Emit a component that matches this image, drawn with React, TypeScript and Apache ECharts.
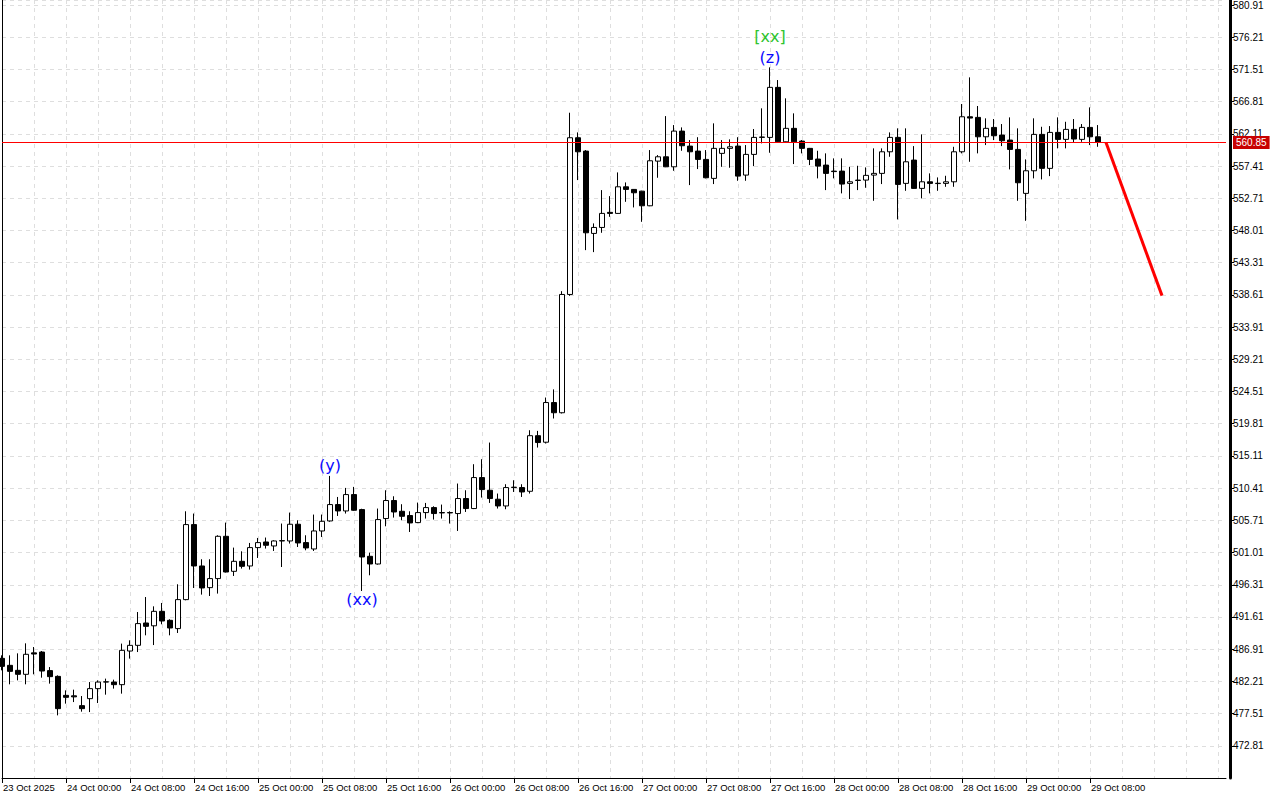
import React, { useEffect, useRef } from "react";
import * as echarts from "echarts";

// ---- categories: hourly bars starting 23 Oct 2025 16:00 (plus empty future slots)
const START_MS = Date.UTC(2025, 9, 23, 16);
const TOTAL_SLOTS = 154;
const categories: string[] = [];
for (let i = 0; i < TOTAL_SLOTS; i++) {
  const d = new Date(START_MS + i * 3600000);
  categories.push(
    i === 0
      ? "23 Oct 2025"
      : `${d.getUTCDate()} Oct ${String(d.getUTCHours()).padStart(2, "0")}:00`
  );
}

// ---- candles: [open, close, low, high]
const candles: number[][] = [
  [485.57, 484.4, 483.82, 486.01],
  [484.55, 483.67, 481.78, 486.01],
  [483.82, 483.24, 482.36, 486.3],
  [483.24, 486.16, 481.78, 487.76],
  [486.37, 486.2, 483.24, 487.22],
  [486.49, 483.72, 482.75, 486.64],
  [483.78, 482.9, 481.88, 484.3],
  [482.94, 478.23, 477.25, 483.09],
  [480.17, 479.88, 478.96, 480.9],
  [480.1, 479.95, 479.19, 481.0],
  [478.67, 478.23, 477.79, 480.07],
  [479.69, 481.15, 477.73, 482.11],
  [481.15, 482.11, 479.05, 482.36],
  [482.11, 482.15, 480.27, 482.61],
  [482.11, 481.73, 481.15, 482.46],
  [481.73, 486.74, 480.42, 487.72],
  [486.64, 487.47, 485.53, 488.2],
  [487.47, 490.64, 486.49, 492.33],
  [490.73, 490.24, 488.93, 494.52],
  [490.32, 492.43, 487.51, 493.16],
  [492.43, 491.02, 490.54, 493.65],
  [491.12, 490.0, 488.93, 491.27],
  [489.91, 494.14, 489.27, 496.38],
  [494.14, 505.09, 494.04, 507.03],
  [505.09, 499.05, 495.84, 506.7],
  [499.05, 495.84, 494.87, 500.03],
  [495.89, 497.21, 494.67, 500.03],
  [497.21, 503.38, 495.02, 503.53],
  [503.38, 498.17, 498.1, 505.38],
  [498.27, 499.73, 497.59, 501.73],
  [499.73, 499.0, 498.67, 501.19],
  [499.05, 501.73, 498.52, 502.41],
  [501.73, 502.46, 500.22, 503.14],
  [502.55, 502.07, 501.59, 503.2],
  [501.97, 502.7, 501.24, 502.8],
  [502.7, 502.75, 498.9, 505.24],
  [502.7, 505.14, 502.32, 506.84],
  [505.14, 502.41, 501.82, 505.72],
  [502.46, 501.68, 501.34, 503.53],
  [501.53, 504.16, 501.24, 506.55],
  [504.16, 505.57, 503.28, 506.55],
  [505.62, 508.01, 505.5, 512.19],
  [508.01, 507.08, 506.35, 509.12],
  [507.08, 509.47, 506.7, 510.44],
  [509.47, 507.18, 507.1, 510.59],
  [507.28, 500.36, 495.4, 507.4],
  [500.46, 499.34, 497.69, 501.0],
  [499.34, 505.82, 499.25, 507.43],
  [505.97, 508.6, 504.84, 510.1],
  [508.6, 506.93, 506.11, 509.22],
  [507.03, 506.3, 505.72, 508.06],
  [506.41, 505.33, 504.01, 507.03],
  [505.38, 506.84, 505.3, 508.3],
  [506.84, 507.57, 505.97, 508.25],
  [507.57, 506.7, 505.82, 507.76],
  [506.79, 506.85, 505.97, 508.01],
  [506.85, 506.79, 505.24, 507.03],
  [506.7, 508.89, 504.16, 511.08],
  [508.89, 507.43, 506.93, 510.1],
  [507.43, 511.95, 507.35, 513.9],
  [511.95, 510.2, 509.03, 514.63],
  [510.1, 508.89, 508.25, 517.06],
  [508.79, 507.81, 507.43, 509.62],
  [507.81, 510.49, 507.33, 510.98],
  [510.49, 510.55, 509.85, 511.56],
  [510.49, 509.85, 509.12, 510.98],
  [509.95, 518.06, 509.62, 518.86],
  [518.06, 517.06, 516.33, 518.76],
  [517.11, 522.9, 516.92, 523.63],
  [522.9, 521.41, 520.57, 524.82],
  [521.41, 538.67, 521.3, 539.15],
  [538.67, 561.54, 538.47, 565.19],
  [561.54, 559.49, 555.36, 562.32],
  [559.59, 547.67, 545.14, 559.74],
  [547.58, 548.45, 544.85, 549.04],
  [548.45, 550.5, 547.67, 553.9],
  [550.65, 550.5, 550.0, 553.02],
  [550.5, 554.38, 550.45, 556.48],
  [554.38, 554.0, 552.19, 555.02],
  [554.0, 553.51, 551.37, 554.05],
  [553.75, 551.61, 549.27, 553.8],
  [551.61, 558.18, 551.55, 559.74],
  [558.13, 558.76, 555.7, 559.01],
  [558.76, 557.3, 557.25, 564.7],
  [557.3, 562.51, 556.72, 563.39],
  [562.51, 560.37, 559.64, 563.05],
  [560.32, 559.49, 554.63, 561.2],
  [559.59, 558.38, 556.97, 561.62],
  [558.38, 555.7, 555.61, 559.74],
  [555.61, 559.99, 554.78, 563.64],
  [559.26, 559.99, 557.3, 561.2],
  [559.99, 560.22, 557.16, 561.3],
  [560.32, 555.94, 555.26, 561.62],
  [556.09, 559.11, 555.26, 560.47],
  [559.11, 561.59, 557.4, 562.81],
  [561.59, 561.65, 560.72, 565.83],
  [561.59, 568.89, 559.35, 571.81],
  [568.89, 560.95, 560.9, 569.96],
  [560.95, 562.91, 560.9, 567.29],
  [562.91, 560.95, 557.7, 565.1],
  [561.05, 559.99, 559.26, 561.2],
  [559.99, 558.38, 557.55, 560.05],
  [558.43, 557.4, 555.61, 559.64],
  [557.55, 556.34, 553.9, 559.26],
  [556.67, 556.6, 555.61, 558.53],
  [556.67, 554.78, 553.42, 558.53],
  [554.88, 555.11, 552.59, 557.3],
  [555.3, 555.36, 553.9, 557.45],
  [555.36, 556.05, 554.24, 557.21],
  [556.09, 556.34, 552.34, 559.99],
  [556.34, 559.49, 554.78, 559.99],
  [559.49, 561.59, 558.76, 562.32],
  [561.59, 554.73, 549.62, 562.91],
  [554.88, 558.03, 553.8, 562.91],
  [558.28, 554.15, 554.1, 560.32],
  [554.15, 555.11, 552.69, 562.03],
  [555.11, 554.88, 553.42, 556.34],
  [554.85, 554.9, 553.8, 555.75],
  [554.88, 555.11, 554.38, 555.99],
  [555.11, 559.49, 554.38, 560.22],
  [559.49, 564.6, 559.26, 566.46],
  [564.6, 564.41, 558.03, 570.35],
  [564.51, 561.68, 559.26, 566.17],
  [561.68, 562.91, 560.47, 564.37],
  [563.05, 561.83, 561.2, 564.27],
  [561.93, 561.1, 560.32, 563.54],
  [561.2, 559.84, 556.92, 564.51],
  [559.84, 554.97, 552.34, 562.91],
  [553.42, 556.72, 549.42, 558.38],
  [556.72, 562.03, 555.61, 564.37],
  [562.03, 557.07, 555.46, 563.14],
  [557.07, 562.32, 555.94, 563.24],
  [562.32, 561.3, 559.99, 564.51],
  [561.3, 562.76, 559.99, 563.87],
  [562.76, 561.35, 560.81, 564.27],
  [561.3, 563.05, 560.95, 563.54],
  [563.05, 561.68, 560.47, 565.97],
  [561.68, 560.85, 560.22, 563.39],
];

const LAST_PRICE = 560.85;
const LAST_INDEX = candles.length - 1;

// ---- forecast segment
const forecastIdx = [138, 145];
const forecastVal = [560.85, 538.5];

// ---- y-axis
const Y_MIN = 468.11;
const Y_MAX = 581.64;
const Y_STEP = 4.7;

// ---- wave annotations
const waveLabels = [
  { text: "(y)", index: 41, side: "top", color: "#0a0aff", dist: 2 },
  { text: "(xx)", index: 45, side: "bottom", color: "#0a0aff", dist: 1 },
  { text: "(z)", index: 96, side: "top", color: "#0a0aff", dist: 2 },
  { text: "[xx]", index: 96, side: "top", color: "#2ec42e", dist: 23 },
];

const FONT = "Liberation Sans";

export default function App() {
  const ref = useRef<HTMLDivElement>(null);

  useEffect(() => {
    if (!ref.current) return;
    const chart = echarts.init(ref.current, undefined, { renderer: "svg" });

    const forecast: (number | null)[] = categories.map(() => null);
    forecastIdx.forEach((ix, k) => (forecast[ix] = forecastVal[k]));

    const labelInterval = (i: number) => i % 8 === 0 && i <= LAST_INDEX;

    const option: any = {
      animation: false,
      backgroundColor: "#ffffff",
      grid: { left: 2, top: 0, width: 1224, height: 778, containLabel: false },
      xAxis: {
        type: "category",
        data: categories,
        boundaryGap: false,
        axisLine: { show: true, lineStyle: { color: "#000", width: 1 } },
        axisTick: {
          show: true,
          interval: labelInterval,
          length: 5,
          lineStyle: { color: "#000" },
        },
        axisLabel: {
          interval: labelInterval,
          align: "left",
          margin: 4,
          color: "#000",
          fontSize: 9.5,
          fontFamily: FONT,
          padding: [0, 0, 0, 1],
        },
        splitLine: {
          show: true,
          interval: (i: number) => i % 4 === 0,
          lineStyle: { color: "#dedede", type: [4, 4], width: 1 },
        },
      },
      yAxis: [
        {
          type: "value",
          position: "right",
          offset: 4,
          min: Y_MIN,
          max: Y_MAX,
          interval: Y_STEP,
          scale: true,
          axisLine: { show: true, lineStyle: { color: "#000", width: 3 } },
          axisTick: { show: true, length: 4, inside: false, lineStyle: { color: "#000" } },
          axisLabel: {
            showMinLabel: false,
            showMaxLabel: false,
            color: "#000",
            fontSize: 10,
            fontFamily: FONT,
            margin: 3,
            formatter: (v: number) => v.toFixed(2),
          },
          splitLine: {
            show: true,
            lineStyle: { color: "#dedede", type: [4, 4], width: 1 },
          },
        },
        {
          type: "value",
          position: "left",
          min: Y_MIN,
          max: Y_MAX,
          interval: Y_STEP,
          axisLine: { show: true, lineStyle: { color: "#000", width: 1 } },
          axisTick: { show: false },
          axisLabel: { show: false },
          splitLine: { show: false },
        },
      ],
      series: [
        {
          type: "candlestick",
          data: candles,
          barWidth: 5,
          itemStyle: {
            color: "#ffffff",
            color0: "#000000",
            borderColor: "#000000",
            borderColor0: "#000000",
            borderWidth: 1,
          },
          markLine: {
            symbol: "none",
            silent: true,
            data: [{ yAxis: LAST_PRICE }],
            lineStyle: { color: "#ff0000", width: 1, type: "solid" },
            label: {
              show: true,
              position: "end",
              distance: 7,
              formatter: LAST_PRICE.toFixed(2),
              color: "#ffffff",
              backgroundColor: "#c80000",
              padding: [2, 3, 1, 3],
              fontSize: 10,
              fontFamily: FONT,
            },
          },
          z: 3,
        },
        {
          type: "line",
          data: forecast,
          connectNulls: true,
          symbol: "none",
          lineStyle: { color: "#ff0000", width: 3 },
          z: 4,
        },
        {
          type: "scatter",
          symbol: "circle",
          symbolSize: 0,
          itemStyle: { color: "#ffffff", opacity: 1 },
          z: 5,
          data: waveLabels.map((w) => ({
            value: [w.index, w.side === "top" ? candles[w.index][3] : candles[w.index][2]],
            label: {
              show: true,
              formatter: w.text,
              position: w.side,
              distance: w.dist,
              color: w.color,
              opacity: 1,
              fontSize: 16,
              fontFamily: "DejaVu Sans",
            },
          })),
        },
      ],
    };

    chart.setOption(option);
    return () => chart.dispose();
  }, []);

  return (
    <div
      ref={ref}
      style={{ position: "fixed", left: 0, top: 0, width: 1280, height: 800, background: "#fff" }}
    />
  );
}
